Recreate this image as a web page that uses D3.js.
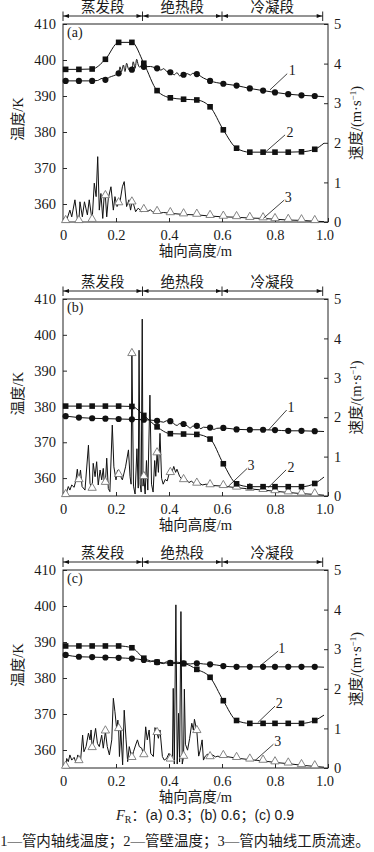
<!DOCTYPE html>
<html lang="zh">
<head>
<meta charset="UTF-8">
<meta name="viewport" content="width=device-width, initial-scale=1.0">
<title>管内温度与流速分布</title>
<script src="https://d3js.org/d3.v7.min.js"></script>
<style>
    html, body { margin: 0; padding: 0; background: #fff; }
    svg { display: block; }
    svg text { font-family: "Liberation Serif", "Times New Roman", "DejaVu Serif", "Noto Sans CJK SC", serif; fill: #1a1a1a; }
    svg text .sans { font-family: "Liberation Sans", Arial, "Noto Sans CJK SC", sans-serif; }
</style>
</head>
<body>
<svg id="chart" width="374" height="852"></svg>
<script>
// --- shared axis data ---
const markerX = [0.01, 0.06, 0.11, 0.16, 0.21, 0.26, 0.305, 0.355, 0.405, 0.455, 0.505, 0.555, 0.605, 0.655, 0.705, 0.755, 0.80, 0.85, 0.90, 0.95];
const endX = 0.985;   // last value of every series sits here (no marker)
const sectionEdges = [0, 0.3, 0.6, 0.98];
const sectionNames = ["蒸发段", "绝热段", "冷凝段"];
const tempTicks = [360, 370, 380, 390, 400, 410];
const speedTicks = [0, 1, 2, 3, 4, 5];
const heightTicks = [0, 0.2, 0.4, 0.6, 0.8, 1.0];

// --- (a) FR = 0.3 ---
const axialA = [394.2, 394.2, 394.2, 394.5, 396.3, 397.3, 398.1, 397.7, 396.6, 395.9, 396.1, 394.2, 393.4, 392.9, 392.1, 391.5, 391.0, 390.5, 390.2, 390.0, 389.8];
const wallA = [397.4, 397.4, 397.5, 400.2, 404.9, 404.9, 399.1, 391.5, 389.5, 389.1, 388.9, 387.0, 380.6, 375.5, 374.4, 374.4, 374.4, 374.4, 374.5, 375.2, 376.9];
const speedA = [0.02, 0.02, 0.05, 0.65, 0.47, 0.49, 0.30, 0.25, 0.22, 0.19, 0.18, 0.15, 0.13, 0.12, 0.10, 0.09, 0.07, 0.05, 0.04, 0.02, 0.01];
const axialWiggleA = [[0.13, 394.3], [0.148, 394.9], [0.175, 395.2], [0.19, 395.6], [0.197, 395.8], [0.215, 398.1], [0.221, 396.8], [0.228, 398.6], [0.234, 396.8], [0.24, 399.1], [0.246, 397.7], [0.253, 397.0], [0.265, 399.5], [0.272, 397.7], [0.278, 400.2], [0.284, 398.6], [0.29, 398.0], [0.297, 398.6], [0.33, 398.2], [0.345, 397.9], [0.37, 397.2], [0.38, 397.6], [0.39, 396.9], [0.42, 395.9], [0.43, 396.5], [0.44, 395.6], [0.47, 396.2], [0.48, 395.8], [0.49, 396.3], [0.53, 395.0]];
const speedNoiseA = [[0.014, 0.05], [0.026, 0.30], [0.033, 0.13], [0.045, 0.56], [0.054, 0.09], [0.064, 0.51], [0.073, 0.13], [0.081, 0.51], [0.092, 0.18], [0.099, 0.56], [0.106, 0.22], [0.118, 0.98], [0.125, 0.64], [0.131, 1.65], [0.137, 0.30], [0.143, 0.72], [0.150, 0.09], [0.155, 0.62], [0.165, 0.13], [0.171, 0.60], [0.181, 0.89], [0.19, 0.30], [0.196, 0.64], [0.204, 0.39], [0.215, 0.51], [0.224, 0.89], [0.231, 1.02], [0.24, 0.39], [0.249, 0.56], [0.255, 0.30], [0.267, 0.43], [0.274, 0.26], [0.284, 0.35], [0.297, 0.26], [0.32, 0.27], [0.33, 0.31], [0.34, 0.24], [0.345, 0.27], [0.37, 0.23], [0.38, 0.24]];

// --- (b) FR = 0.6 ---
const axialB = [377.3, 376.9, 376.7, 376.6, 376.5, 376.4, 376.3, 376.0, 375.9, 375.1, 374.6, 374.1, 374.0, 373.6, 373.5, 373.5, 373.4, 373.2, 373.2, 373.1, 373.0];
const wallB = [380.1, 380.1, 380.1, 380.1, 380.1, 380.0, 377.5, 374.3, 372.4, 372.3, 372.2, 370.9, 364.0, 358.4, 357.6, 357.6, 357.6, 357.6, 357.6, 358.5, 360.3];
const speedB = [0.02, 0.40, 0.18, 0.33, 0.53, 3.60, 0.48, 1.08, 0.58, 0.40, 0.31, 0.27, 0.25, 0.21, 0.18, 0.15, 0.12, 0.09, 0.06, 0.04, 0.02];
const axialWiggleB = [[0.38, 375.6], [0.39, 376.0], [0.43, 374.7], [0.44, 375.2], [0.47, 374.5], [0.48, 374.0], [0.49, 374.5], [0.52, 373.8], [0.53, 374.2], [0.57, 373.6], [0.58, 373.9]];
const speedNoiseB = [[0.02, 0.24], [0.026, 0.15], [0.033, 0.28], [0.042, 0.22], [0.049, 0.41], [0.054, 0.68], [0.058, 0.45], [0.066, 0.66], [0.072, 0.24], [0.083, 0.15], [0.096, 1.29], [0.102, 0.32], [0.107, 0.22], [0.114, 0.83], [0.121, 0.49], [0.127, 0.87], [0.133, 0.28], [0.140, 0.66], [0.146, 0.41], [0.152, 0.70], [0.156, 0.32], [0.165, 0.96], [0.171, 0.19], [0.177, 0.11], [0.186, 1.80], [0.192, 0.74], [0.200, 0.41], [0.206, 0.66], [0.215, 0.53], [0.224, 0.41], [0.236, 0.74], [0.247, 1.17], [0.253, 0.49], [0.257, 0.30], [0.266, 0.25], [0.272, 0.05], [0.279, 1.20], [0.284, 0.20], [0.287, 3.70], [0.291, 0.30], [0.295, 0.10], [0.299, 4.49], [0.302, 0.25], [0.31, 0.05], [0.315, 0.90], [0.32, 0.15], [0.328, 2.56], [0.334, 0.30], [0.34, 0.10], [0.346, 0.90], [0.35, 0.50], [0.36, 0.60], [0.366, 1.59], [0.372, 0.45], [0.378, 0.30], [0.386, 0.42], [0.393, 0.38], [0.40, 0.55], [0.412, 0.62], [0.418, 0.75], [0.425, 0.60], [0.43, 0.68], [0.44, 0.50], [0.447, 0.44], [0.465, 0.42], [0.475, 0.34], [0.485, 0.38], [0.495, 0.31], [0.515, 0.33], [0.525, 0.28], [0.54, 0.30]];

// --- (c) FR = 0.9 ---
const axialC = [386.4, 385.9, 385.8, 385.7, 385.6, 385.4, 385.0, 384.4, 384.2, 384.1, 384.1, 383.8, 383.3, 383.1, 383.1, 383.1, 383.1, 383.1, 383.1, 383.1, 383.0];
const wallC = [388.9, 388.9, 388.9, 388.9, 388.9, 388.4, 385.5, 384.4, 384.1, 384.0, 382.4, 380.2, 373.7, 368.2, 367.4, 367.4, 367.4, 367.4, 367.4, 368.2, 369.7];
const speedC = [0.03, 0.17, 0.50, 0.92, 0.98, 0.25, 0.32, 0.88, 0.21, 0.28, 0.93, 0.27, 0.30, 0.25, 0.21, 0.18, 0.14, 0.11, 0.07, 0.04, 0.02];
const axialWiggleC = [[0.33, 384.5], [0.34, 384.8], [0.38, 384.0], [0.39, 384.5], [0.43, 384.4], [0.48, 383.9], [0.53, 383.9], [0.58, 383.6]];
const speedNoiseC = [[0.014, 0.24], [0.020, 0.16], [0.026, 0.33], [0.033, 0.20], [0.042, 0.27], [0.049, 0.13], [0.056, 0.33], [0.067, 0.24], [0.074, 0.83], [0.079, 0.41], [0.087, 0.54], [0.096, 0.88], [0.102, 0.71], [0.106, 0.96], [0.116, 0.71], [0.123, 1.00], [0.130, 0.62], [0.137, 0.54], [0.146, 0.83], [0.152, 0.50], [0.167, 0.54], [0.175, 0.33], [0.184, 0.71], [0.190, 1.76], [0.196, 1.42], [0.203, 0.96], [0.207, 1.21], [0.213, 0.29], [0.218, 0.96], [0.225, 0.08], [0.231, 1.46], [0.238, 0.71], [0.244, 0.16], [0.250, 0.54], [0.266, 0.41], [0.274, 0.58], [0.281, 0.71], [0.288, 0.54], [0.297, 0.50], [0.312, 1.04], [0.318, 0.71], [0.325, 0.96], [0.331, 0.37], [0.341, 0.29], [0.347, 1.02], [0.360, 0.75], [0.366, 0.96], [0.375, 0.29], [0.382, 0.20], [0.391, 0.24], [0.40, 0.37], [0.413, 0.30], [0.416, 2.01], [0.42, 0.10], [0.426, 4.12], [0.431, 0.10], [0.436, 1.38], [0.44, 0.15], [0.445, 3.95], [0.45, 0.10], [0.458, 1.99], [0.462, 0.60], [0.47, 0.45], [0.478, 0.75], [0.486, 1.13], [0.492, 0.96], [0.496, 1.23], [0.512, 0.30], [0.518, 0.45], [0.525, 0.71], [0.53, 0.20], [0.537, 0.30], [0.545, 0.35], [0.55, 0.30], [0.565, 0.33], [0.575, 0.28], [0.585, 0.30], [0.595, 0.27]];

const panels = [
    { tag: "(a)", top: 24, bottom: 222, axial: axialA, wall: wallA, speed: speedA, axialWiggle: axialWiggleA, speedNoise: speedNoiseA,
      labels: [
          { n: "1", at: [0.865, 397.2], from: [0.846, 396.2], to: [0.781, 391.7] },
          { n: "2", at: [0.857, 380.1], from: [0.838, 379.2], to: [0.762, 374.3] },
          { n: "3", at: [0.850, 362.0], from: [0.835, 361.1], to: [0.756, 356.0] }
      ] },
    { tag: "(b)", top: 299, bottom: 496, axial: axialB, wall: wallB, speed: speedB, axialWiggle: axialWiggleB, speedNoise: speedNoiseB,
      labels: [
          { n: "1", at: [0.860, 379.9], from: [0.844, 379.0], to: [0.775, 373.4] },
          { n: "2", at: [0.860, 363.2], from: [0.842, 362.3], to: [0.775, 357.4] },
          { n: "3", at: [0.709, 363.7], from: [0.695, 362.7], to: [0.624, 357.7] }
      ] },
    { tag: "(c)", top: 570, bottom: 768, axial: axialC, wall: wallC, speed: speedC, axialWiggle: axialWiggleC, speedNoise: speedNoiseC,
      labels: [
          { n: "1", at: [0.825, 388.4], from: [0.812, 387.5], to: [0.743, 383.3] },
          { n: "2", at: [0.816, 373.1], from: [0.800, 372.2], to: [0.735, 367.6] },
          { n: "3", at: [0.810, 362.5], from: [0.794, 361.6], to: [0.725, 357.1] }
      ] }
];

const svg = d3.select("#chart");
const x = d3.scaleLinear().domain([0, 1]).range([63, 328]);
const ink = "#111";

function withEnd(values) {
    // pair marker positions + tube end with a series' values
    return markerX.concat([endX]).map((xx, i) => [xx, values[i]]);
}

function drawPanel(p) {
    const yT = d3.scaleLinear().domain([355, 410]).range([p.bottom, p.top]);
    const yV = d3.scaleLinear().domain([0, 5]).range([p.bottom, p.top]);
    const g = svg.append("g");
    const mid = (p.top + p.bottom) / 2;

    // --- section header ---
    const hy = p.top - 8;
    const head = g.append("g").attr("stroke", ink).attr("stroke-width", 0.9);
    head.selectAll("line.bar").data(sectionEdges).join("line")
        .attr("x1", d => x(d)).attr("x2", d => x(d))
        .attr("y1", hy - 4.5).attr("y2", hy + 5);
    sectionNames.forEach((name, i) => {
        const x0 = x(sectionEdges[i]), x1 = x(sectionEdges[i + 1]);
        head.append("line").attr("x1", x0).attr("x2", x1).attr("y1", hy).attr("y2", hy);
        head.append("path").attr("fill", ink).attr("stroke", "none")
            .attr("d", `M${x0 + 0.6},${hy} L${x0 + 6},${hy - 2} L${x0 + 6},${hy + 2} Z M${x1 - 0.6},${hy} L${x1 - 6},${hy - 2} L${x1 - 6},${hy + 2} Z`);
        g.append("text").attr("x", (x0 + x1) / 2).attr("y", p.top - 12)
            .attr("text-anchor", "middle").attr("font-size", 14.5).text(name);
    });

    // --- axes ---
    const fmtX = d => d === 0 ? "0" : d3.format(".1f")(d);
    const left = g.append("g").attr("transform", `translate(${x(0)},0)`)
        .call(d3.axisLeft(yT).tickValues(tempTicks).tickFormat(d3.format("d")).tickSize(-4).tickPadding(7));
    const right = g.append("g").attr("transform", `translate(${x(1)},0)`)
        .call(d3.axisRight(yV).tickValues(speedTicks).tickFormat(d3.format("d")).tickSize(-4).tickPadding(6));
    const bottom = g.append("g").attr("transform", `translate(0,${p.bottom})`)
        .call(d3.axisBottom(x).tickValues(heightTicks).tickFormat(fmtX).tickSize(-4).tickPadding(8));
    [left, right, bottom].forEach(ax => {
        ax.select(".domain").remove();
        ax.attr("font-family", null).attr("font-size", null);
        ax.selectAll(".tick line").attr("stroke", ink).attr("stroke-width", 0.9);
        ax.selectAll(".tick text").attr("font-size", 14.5).attr("fill", "#1a1a1a");
    });
    // keep "1.0" clear of the right axis "0"
    bottom.selectAll(".tick text").filter(d => d === 1).attr("dx", -3.5);

    g.append("rect").attr("x", x(0)).attr("y", p.top)
        .attr("width", x(1) - x(0)).attr("height", p.bottom - p.top)
        .attr("fill", "none").attr("stroke", "#222").attr("stroke-width", 1);

    // --- axis titles ---
    g.append("text").attr("transform", `translate(18,${mid - 4}) rotate(-90)`)
        .attr("text-anchor", "middle").attr("dy", "0.35em").attr("font-size", 14.5).text("温度/K");
    const rt = g.append("text").attr("transform", `translate(356,${mid}) rotate(-90)`)
        .attr("text-anchor", "middle").attr("dy", "0.35em").attr("font-size", 14.5);
    rt.append("tspan").text("速度/(m\u00b7s");
    rt.append("tspan").attr("font-size", 9).attr("dy", -5).text("\u22121");
    rt.append("tspan").attr("dy", 5).text(")");
    g.append("text").attr("x", x(0.5)).attr("y", p.bottom + 34)
        .attr("text-anchor", "middle").attr("font-size", 14.5).text("轴向高度/m");
    g.append("text").attr("x", x(0) + 4).attr("y", p.top + 13).attr("font-size", 14).text(p.tag);

    // --- lines ---
    const lineT = d3.line().x(d => x(d[0])).y(d => yT(d[1])).curve(d3.curveMonotoneX);
    const lineV = d3.line().x(d => x(d[0])).y(d => yV(d[1]));
    const byX = (a, b) => a[0] - b[0];

    const axialPts = withEnd(p.axial).concat(p.axialWiggle).sort(byX);
    const wallPts = withEnd(p.wall);
    const speedPts = withEnd(p.speed).concat(p.speedNoise).sort(byX);

    g.append("path").datum(wallPts).attr("d", lineT)
        .attr("fill", "none").attr("stroke", ink).attr("stroke-width", 1);
    g.append("path").datum(axialPts).attr("d", lineT)
        .attr("fill", "none").attr("stroke", ink).attr("stroke-width", 1);
    g.append("path").datum(speedPts).attr("d", lineV)
        .attr("fill", "none").attr("stroke", ink).attr("stroke-width", 1).attr("stroke-linejoin", "round");

    // --- markers ---
    const tri = d3.symbol(d3.symbolTriangle, 30);
    g.append("g").selectAll("path")
        .data(markerX.map((xx, i) => [xx, p.speed[i]])).join("path")
        .attr("d", tri).attr("transform", d => `translate(${x(d[0])},${yV(d[1]) - 1})`)
        .attr("fill", "#fff").attr("stroke", "#777").attr("stroke-width", 0.9);
    g.append("g").selectAll("rect")
        .data(markerX.map((xx, i) => [xx, p.wall[i]])).join("rect")
        .attr("x", d => x(d[0]) - 2.8).attr("y", d => yT(d[1]) - 2.8)
        .attr("width", 5.6).attr("height", 5.6).attr("fill", ink);
    g.append("g").selectAll("circle")
        .data(markerX.map((xx, i) => [xx, p.axial[i]])).join("circle")
        .attr("cx", d => x(d[0])).attr("cy", d => yT(d[1])).attr("r", 3.1).attr("fill", ink);

    // --- curve labels ---
    p.labels.forEach(l => {
        g.append("line")
            .attr("x1", x(l.from[0])).attr("y1", yT(l.from[1]))
            .attr("x2", x(l.to[0])).attr("y2", yT(l.to[1]))
            .attr("stroke", ink).attr("stroke-width", 0.8);
        g.append("text").attr("x", x(l.at[0])).attr("y", yT(l.at[1]))
            .attr("text-anchor", "middle").attr("dy", "0.35em").attr("font-size", 14).text(l.n);
    });
}

panels.forEach(drawPanel);

// --- captions ---
const cap = svg.append("text").attr("x", 205).attr("y", 820).attr("text-anchor", "middle").attr("font-size", 14.5);
cap.append("tspan").attr("font-style", "italic").text("F");
cap.append("tspan").attr("font-size", 10).attr("dy", 3).text("R");
cap.append("tspan").attr("class", "sans").attr("dy", -3).attr("font-size", 14).text("：(a) 0.3；(b) 0.6；(c) 0.9");

svg.append("text").attr("x", 185).attr("y", 846).attr("text-anchor", "middle").attr("font-size", 14.5)
    .text("1—管内轴线温度；2—管壁温度；3—管内轴线工质流速。");
</script>
</body>
</html>
